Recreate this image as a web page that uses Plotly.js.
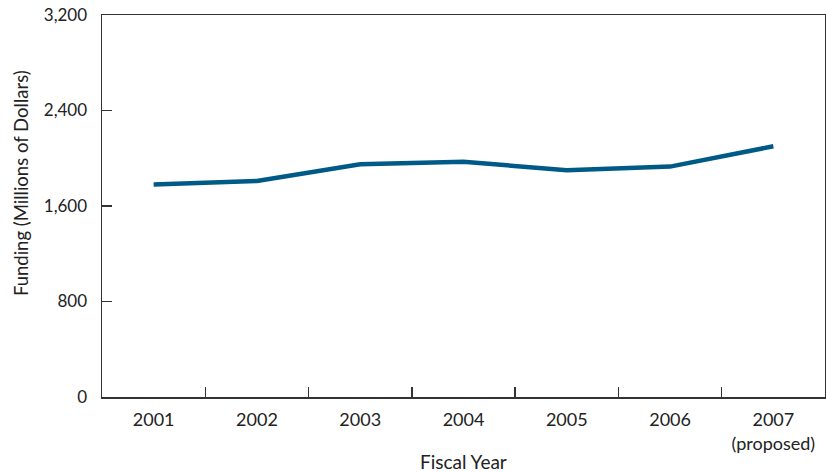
<!DOCTYPE html>
<html>
<head>
<meta charset="utf-8">
<script src="https://cdn.plot.ly/plotly-3.0.1.min.js"></script>
<style>html,body{margin:0;padding:0;background:#fff;}#chart{width:826px;height:472px;}</style>
</head>
<body>
<div id="chart"></div>
<script>
const years = ["2001", "2002", "2003", "2004", "2005", "2006", "2007<br>(proposed)"];
const funding = [1780, 1810, 1950, 1970, 1900, 1930, 2100];
const yTicks = [0, 800, 1600, 2400, 3200];
const yTickText = ["0", "800", "1,600", "2,400", "3,200"];
const xTitle = "Fiscal Year";
const yTitle = "Funding (Millions of Dollars)";

const fam = "Lato, 'Open Sans', sans-serif";
const col = "#222";

Plotly.newPlot("chart", [{
  x: years,
  y: funding,
  type: "scatter",
  mode: "lines",
  line: {color: "#005a87", width: 4.5},
  hoverinfo: "skip"
}], {
  width: 826, height: 472,
  margin: {l: 102, r: 1, t: 15, b: 75},
  paper_bgcolor: "#fff", plot_bgcolor: "#fff",
  font: {family: fam, size: 17, color: col},
  showlegend: false,
  xaxis: {
    type: "category",
    range: [-0.5, 6.5],
    showgrid: false, zeroline: false,
    showline: true, linecolor: "#333", linewidth: 1.5, mirror: true,
    ticks: "inside", ticklen: 10, tickwidth: 1.5, tickcolor: "#333",
    tickson: "boundaries",
    tickfont: {family: fam, size: 18, color: col},
    ticklabelstandoff: 6
  },
  yaxis: {
    range: [0, 3200],
    tickvals: yTicks, ticktext: yTickText,
    showgrid: false, zeroline: false,
    showline: true, linecolor: "#333", linewidth: 1.5, mirror: true,
    ticks: "inside", ticklen: 10, tickwidth: 1.5, tickcolor: "#333",
    tickfont: {family: fam, size: 17, color: col},
    ticklabelstandoff: 10
  },
  annotations: [
    {text: xTitle, xref: "paper", yref: "paper", x: 0.5, y: -0.170,
     xanchor: "center", yanchor: "middle", showarrow: false,
     font: {family: fam, size: 19, color: col}},
    {text: yTitle, xref: "paper", yref: "paper", x: -0.112, y: 0.56,
     xanchor: "center", yanchor: "middle", showarrow: false, textangle: -90,
     font: {family: fam, size: 18.5, color: col}}
  ]
}, {displayModeBar: false, staticPlot: true});
</script>
</body>
</html>
